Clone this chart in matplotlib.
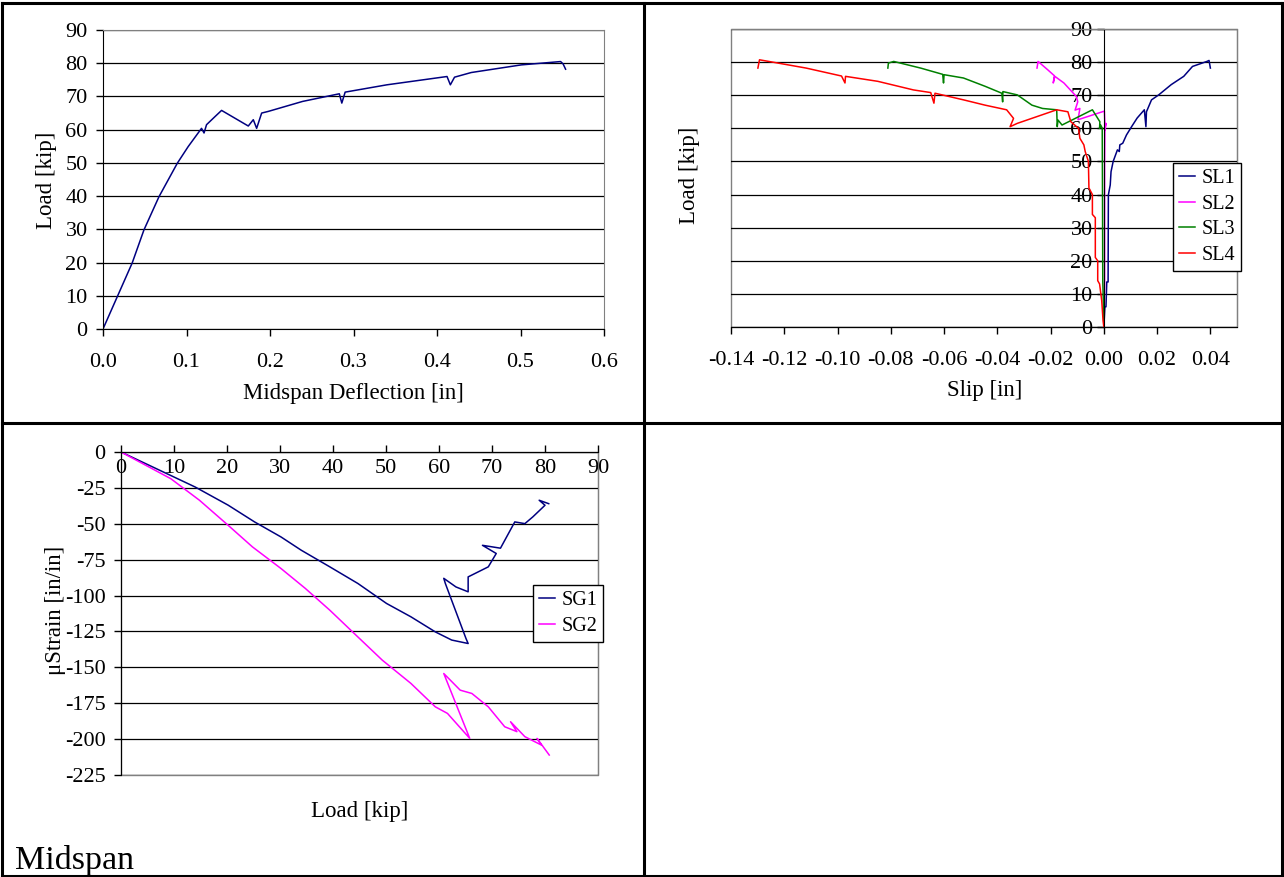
import matplotlib
matplotlib.use("Agg")
import matplotlib.pyplot as plt
from matplotlib.lines import Line2D
from matplotlib.patches import Rectangle

plt.rcParams["font.family"] = ["Liberation Serif", "DejaVu Serif"]
plt.rcParams["axes.unicode_minus"] = False

W, H = 1284, 877

# --- panel 1: load vs midspan deflection
defl = [0, 0.035, 0.049, 0.067, 0.089, 0.102, 0.118, 0.121, 0.124, 0.134, 0.142,
        0.174, 0.180, 0.184, 0.190, 0.198, 0.239, 0.283, 0.286, 0.290, 0.340,
        0.412, 0.416, 0.421, 0.441, 0.501, 0.548, 0.551, 0.554]
defl_load = [0, 19.9, 29.8, 39.8, 49.9, 54.9, 60.4, 59.0, 61.5, 63.9, 65.8,
             61.1, 63.0, 60.4, 65.0, 65.5, 68.5, 70.8, 68.0, 71.3, 73.5,
             76.0, 73.5, 75.8, 77.2, 79.5, 80.5, 79.8, 78.2]

# --- panel 2: load vs slip
sl1_slip = [0, 0.0004, 0.0008, 0.0011, 0.0016, 0.0017, 0.0024, 0.0027, 0.0035, 0.0051,
            0.0058, 0.0060, 0.0071, 0.0085, 0.0105, 0.0125, 0.0152, 0.0158, 0.0160,
            0.0179, 0.0206, 0.0253, 0.0300, 0.0333, 0.0387, 0.0395, 0.0400]
sl1_load = [0, 6.1, 6.1, 13.6, 13.6, 39.9, 42.9, 46.9, 50.0, 53.5,
            53.0, 55.0, 55.5, 58.0, 60.6, 63.1, 65.6, 60.5, 65.0,
            68.6, 70.1, 73.2, 75.7, 78.7, 80.2, 80.5, 78.2]
sl2_slip = [0, 0.0003, 0.0003, 0.0004, 0.0008, 0.0005, 0.0002, -0.0097, -0.0090,
            -0.0108, -0.0098, -0.0103, -0.0150, -0.0184, -0.0190, -0.0186, -0.0211,
            -0.0247, -0.0251]
sl2_load = [0, 14, 50, 60, 61.5, 59.5, 65.2, 62.6, 66.0,
            65.5, 68.0, 69.6, 73.7, 75.7, 73.7, 75.9, 77.7,
            80.2, 78.2]
sl3_slip = [0, -0.0002, -0.0004, -0.0005, -0.0006, -0.0012, -0.0016, -0.0015, -0.0043,
            -0.0157, -0.0172, -0.0175, -0.0177, -0.0230, -0.0270, -0.0325, -0.0379,
            -0.0380, -0.0383, -0.0446, -0.0527, -0.0600, -0.0602, -0.0605, -0.0688,
            -0.0789, -0.0809, -0.0811]
sl3_load = [0, 8, 14, 40, 60, 61, 60, 62, 65.6,
            61, 62.5, 60.5, 65.6, 66, 67, 70.1, 71.1,
            68, 70.6, 72.7, 75.2, 76.2, 73.7, 76.3, 78.2,
            80.2, 79.7, 78.2]
sl4_slip = [0, -0.0003, -0.0008, -0.0016, -0.0023, -0.0023, -0.0032, -0.0032, -0.0043,
            -0.0043, -0.0056, -0.0058, -0.0070, -0.0075, -0.0090, -0.0095, -0.0124,
            -0.0135, -0.0177, -0.0325, -0.0352, -0.0339, -0.0365, -0.0446, -0.0527,
            -0.0634, -0.0638, -0.0650, -0.0715, -0.0849, -0.0970, -0.0972, -0.0985,
            -0.1118, -0.1293, -0.1299]
sl4_load = [0, 2, 8, 13, 14, 20, 21, 33, 34,
            40, 42, 50, 53, 55, 57, 60, 62,
            65, 65.6, 61.5, 60.5, 63, 65.6, 67, 68.6,
            70.6, 67.6, 70.8, 71.6, 74.2, 75.7, 73.7, 75.8,
            78.2, 80.7, 78.2]

# --- panel 3: strain vs load
sg1_load = [0, 14.0, 20.2, 25.2, 30.2, 34.0, 39.4, 44.7, 50.1, 54.7, 59.3, 62.4, 65.5,
            65.1, 61.2, 60.9, 63.2, 65.5, 65.5, 69.3, 70.8, 68.2, 71.6, 74.3, 76.2,
            77.7, 80.0, 78.9, 80.7]
sg1_strain = [0, -24.4, -37.0, -48.7, -59.2, -68.4, -80.0, -91.6, -105.5, -114.8, -125.3,
              -131.0, -133.4, -130.0, -91.6, -88.0, -94.0, -97.4, -87.0, -80.0, -70.7,
              -65.0, -67.0, -48.7, -49.9, -45.2, -37.1, -33.6, -36.0]
sg2_load = [0, 9.4, 14.8, 20.2, 24.8, 30.2, 34.8, 39.4, 44.0, 49.3, 54.7, 59.3, 61.6,
            65.8, 60.9, 64.0, 66.2, 69.3, 72.4, 74.7, 73.5, 76.2, 79.3, 78.5, 80.8]
sg2_strain = [0, -18.6, -33.6, -51.0, -66.1, -81.2, -95.1, -110.2, -126.4, -145.0,
              -161.2, -177.5, -182.1, -199.5, -154.3, -165.9, -168.2, -177.5, -191.4,
              -194.8, -187.9, -198.3, -204.1, -199.5, -211.1]

NAVY, PINK, GREEN, RED = "#000080", "#FF00FF", "#008000", "#FF0000"
GRAY = "#808080"
TICK_FS, LABEL_FS = 16, 16.5
LEGEND_KW = dict(fontsize=14.5, frameon=True, fancybox=False, edgecolor="black",
                 framealpha=1, borderpad=0.3, labelspacing=0.32, handlelength=0.8,
                 handletextpad=0.3, borderaxespad=0)


def px_axes(fig, left, top, right, bottom):
    return fig.add_axes([left / W, 1 - bottom / H, (right - left) / W, (bottom - top) / H])


def fig_text(fig, x, y, s, **kw):
    fig.text(x / W, 1 - y / H, s, **kw)


def style_grid(ax):
    ax.yaxis.grid(True, color="black", linewidth=0.9)
    ax.set_axisbelow(True)
    ax.tick_params(labelsize=TICK_FS, length=5, width=1, color="black")


fig = plt.figure(figsize=(W / 100, H / 100), dpi=100)

# table borders
for xs, ys in [([2, 2], [3, 876]), ([644, 644], [3, 876]), ([1282, 1282], [3, 876]),
               ([2, 1282], [3, 3]), ([2, 1282], [423, 423]), ([2, 1282], [876, 876])]:
    fig.add_artist(Line2D([x / W for x in xs], [1 - y / H for y in ys],
                          transform=fig.transFigure, color="black", linewidth=2.2))

# panel 1
ax1 = px_axes(fig, 103, 30, 604, 329)
ax1.plot(defl, defl_load, color=NAVY, linewidth=1.1)
ax1.set_xlim(0, 0.6)
ax1.set_ylim(0, 90)
ax1.set_xticks([0, 0.1, 0.2, 0.3, 0.4, 0.5, 0.6])
ax1.set_xticklabels(["0.0", "0.1", "0.2", "0.3", "0.4", "0.5", "0.6"])
ax1.set_yticks(range(0, 91, 10))
style_grid(ax1)
ax1.tick_params(axis="x", pad=12)
ax1.tick_params(axis="y", pad=6)
for s in ["top", "right"]:
    ax1.spines[s].set_color(GRAY)
fig_text(fig, 353, 393, "Midspan Deflection [in]", fontsize=LABEL_FS, ha="center", va="center")
fig_text(fig, 47, 180, "Load [kip]", fontsize=LABEL_FS, ha="center", va="center", rotation=90)

# panel 2
ax2 = px_axes(fig, 731, 29, 1237, 327)
ax2.plot(sl1_slip, sl1_load, color=NAVY, linewidth=1.1, label="SL1")
ax2.plot(sl2_slip, sl2_load, color=PINK, linewidth=1.1, label="SL2")
ax2.plot(sl3_slip, sl3_load, color=GREEN, linewidth=1.1, label="SL3")
ax2.plot(sl4_slip, sl4_load, color=RED, linewidth=1.1, label="SL4")
ax2.set_xlim(-0.14, 0.05)
ax2.set_ylim(0, 90)
ax2.set_xticks([-0.14, -0.12, -0.10, -0.08, -0.06, -0.04, -0.02, 0.0, 0.02, 0.04])
ax2.set_xticklabels(["-0.14", "-0.12", "-0.10", "-0.08", "-0.06", "-0.04", "-0.02",
                     "0.00", "0.02", "0.04"])
ax2.set_yticks(range(0, 91, 10))
style_grid(ax2)
ax2.tick_params(axis="x", pad=12)
ax2.tick_params(axis="y", pad=3)
ax2.spines["left"].set_position(("data", 0))
for s in ["top", "right"]:
    ax2.spines[s].set_color(GRAY)
ax2.add_patch(Rectangle((0, 0), 1, 1, transform=ax2.transAxes, fill=False,
                        edgecolor=GRAY, linewidth=1, clip_on=False, zorder=0))
ax2.legend(loc="upper left", bbox_to_anchor=(1173 / W, 1 - 163 / H),
           bbox_transform=fig.transFigure, **LEGEND_KW)
fig_text(fig, 985, 391, "Slip [in]", fontsize=LABEL_FS, ha="center", va="center")
fig_text(fig, 690, 175, "Load [kip]", fontsize=LABEL_FS, ha="center", va="center", rotation=90)

# panel 3
ax3 = px_axes(fig, 121, 452, 598, 775)
ax3.plot(sg1_load, sg1_strain, color=NAVY, linewidth=1.1, label="SG1")
ax3.plot(sg2_load, sg2_strain, color=PINK, linewidth=1.1, label="SG2")
ax3.set_xlim(0, 90)
ax3.set_ylim(-225, 0)
ax3.set_xticks(range(0, 91, 10))
ax3.set_yticks(range(-225, 1, 25))
style_grid(ax3)
ax3.spines["bottom"].set_position(("data", 0))
ax3.tick_params(axis="x", direction="in", pad=5)
ax3.tick_params(axis="y", pad=6)
ax3.spines["top"].set_visible(False)
ax3.spines["right"].set_color(GRAY)
ax3.add_patch(Rectangle((0, 0), 1, 1, transform=ax3.transAxes, fill=False,
                        edgecolor=GRAY, linewidth=1, clip_on=False, zorder=0))
ax3.legend(loc="upper left", bbox_to_anchor=(533 / W, 1 - 585 / H),
           bbox_transform=fig.transFigure, **LEGEND_KW)
fig_text(fig, 360, 812, "Load [kip]", fontsize=LABEL_FS, ha="center", va="center")
fig_text(fig, 55, 610, "\u03bcStrain [in/in]", fontsize=LABEL_FS, ha="center", va="center",
         rotation=90)
fig_text(fig, 15, 869, "Midspan", fontsize=24.5, ha="left", va="baseline")

fig.savefig("out.png", dpi=100)
